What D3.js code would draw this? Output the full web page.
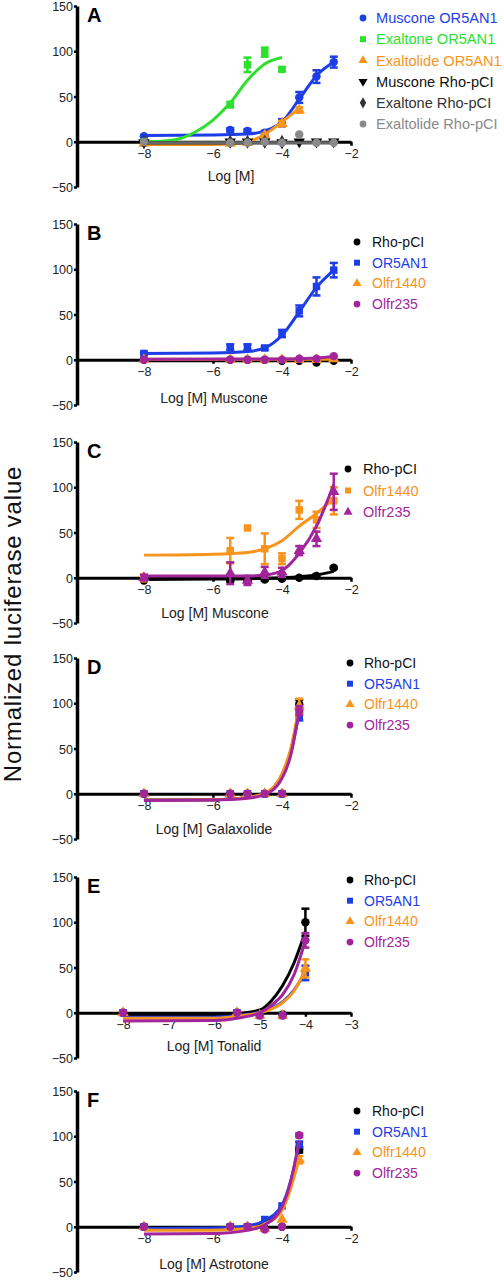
<!DOCTYPE html>
<html><head><meta charset="utf-8">
<script src="https://cdn.jsdelivr.net/npm/d3@7"></script>
<style>body{margin:0;background:#fff}svg{display:block}</style>
</head><body>
<svg id="chart" width="504" height="1280"></svg>
<script>
// ---------------- DATA ----------------
const yTickValues = [-50, 0, 50, 100, 150];
const xTicksStd = [-8, -6, -4, -2];
const xTicksE = [-8, -7, -6, -5, -4, -3];

// Panel A
const A_conc = [-8, -5.5, -5, -4.5, -4, -3.5, -3, -2.5];
const A_exaltoneConc = [-8, -5.5, -5, -4.5, -4];
const A_exaltolideConc = [-8, -5.5, -5, -4.5, -4, -3.5];
const A_musconeOR5AN1 = [6, 13, 12, 10, 21, 49, 72, 88];
const A_musconeOR5AN1Err = [1, 2, 2, 2, 4, 6, 7, 6];
const A_exaltoneOR5AN1 = [0, 41, 85, 99, 80];
const A_exaltoneOR5AN1Err = [0, 3, 8, 5, 2];
const A_exaltolideOR5AN1 = [-2, -2, -1, 7, 20, 35];
const A_exaltolideOR5AN1Err = [1, 1, 1, 2, 3, 3];
const A_musconeRho = [-1, 0, 0, 0, -1, 0, 0, 0];
const A_exaltoneRho = [0, 0, 0, 0, 0];
const A_exaltolideRho = [0, -1, -1, 0, -1, 8, -1, -1];
const A_fitMusconeOR5AN1 = [[-8, 7], [-6, 7.5], [-5, 8.5], [-4.5, 12], [-4, 22], [-3.5, 47], [-3, 73], [-2.5, 88]];
const A_fitExaltoneOR5AN1 = [[-8, 0], [-7.5, 0.5], [-7, 3], [-6.5, 11], [-6, 24], [-5.5, 43], [-5, 68], [-4.5, 86], [-4, 93]];
const A_fitExaltolideOR5AN1 = [[-8, -3], [-6, -3], [-5.5, -2.5], [-5, 0], [-4.5, 8], [-4, 22], [-3.5, 37]];
const A_fitMusconeRho = [[-8, -1], [-2.5, -1]];
const A_fitExaltoneRho = [[-8, -1], [-4, -1]];
const A_fitExaltolideRho = [[-8, -1], [-2.5, -1]];

// Panel B (Muscone)
const B_conc = [-8, -5.5, -5, -4.5, -4, -3.5, -3, -2.5];
const B_Rho = [0, 0, 0, 0, -1, -1, -3, -1];
const B_OR5AN1 = [7, 14, 14, 13, 29, 54, 81, 99];
const B_OR5AN1Err = [1, 3, 3, 2, 4, 6, 10, 8];
const B_Olfr1440 = [0, 0, 0, 0, 0, 0, 0, 1];
const B_Olfr235 = [0, 0, 0, 0, 0, 1, 1, 4];
const B_fitRho = [[-8, -1], [-2.5, -1]];
const B_fitOR5AN1 = [[-8, 7], [-6, 7.5], [-5, 9], [-4.5, 13], [-4, 27], [-3.5, 53], [-3, 80], [-2.5, 99]];
const B_fitOlfr1440 = [[-8, 0.5], [-2.5, 0.5]];
const B_fitOlfr235 = [[-8, 0.5], [-4, 0.8], [-3, 1.8], [-2.5, 3.5]];

// Panel C (Muscone)
const C_conc = [-8, -5.5, -5, -4.5, -4, -3.5, -3, -2.5];
const C_Rho = [-3, -3, -3, -2, -1, 0, 2, 11];
const C_RhoErr = [1, 1, 1, 1, 1, 1, 2, 1];
const C_Olfr1440 = [0, 30, 55, 32, 21, 75, 64, 85];
const C_Olfr1440Err = [4, 14, 0, 17, 6, 10, 9, 15];
const C_Olfr235 = [0, 5, -3, 6, 6, 30, 43, 95];
const C_Olfr235Err = [3, 12, 5, 6, 5, 5, 8, 20];
const C_fitRho = [[-8, -2], [-6, -1.5], [-4, 0], [-3, 3], [-2.5, 7]];
const C_fitOlfr1440 = [[-8, 25], [-6, 26], [-5, 28], [-4.5, 32], [-4, 41], [-3.5, 57], [-3, 71], [-2.5, 88]];
const C_fitOlfr235 = [[-8, 2], [-5, 2], [-4.5, 3], [-4, 8], [-3.5, 27], [-3, 57], [-2.5, 103]];

// Panel D (Galaxolide)
const D_conc = [-8, -5.5, -5, -4.5, -4, -3.5];
const D_Rho = [0, 0, 0, 0, 0, 99];
const D_RhoErr = [0, 0, 0, 0, 0, 5];
const D_OR5AN1 = [0, 0, 0, 0, 0, 85];
const D_OR5AN1Err = [0, 0, 0, 0, 0, 4];
const D_Olfr1440 = [0, 0, 0, 0, 0, 97];
const D_Olfr1440Err = [0, 0, 0, 0, 0, 8];
const D_Olfr235 = [0, 0, 0, 0, 0, 92];
const D_Olfr235Err = [0, 0, 0, 0, 0, 5];
const D_fitRho = [[-8, -7], [-6, -6.5], [-5, -4], [-4.5, 0], [-4, 21], [-3.75, 47], [-3.5, 94]];
const D_fitOR5AN1 = [[-8, -7], [-6, -6.5], [-5, -4], [-4.5, 0], [-4, 20], [-3.75, 45], [-3.5, 90]];
const D_fitOlfr1440 = [[-8, -7], [-6, -6.5], [-5, -4], [-4.5, 0.5], [-4, 22], [-3.75, 49], [-3.5, 97]];
const D_fitOlfr235 = [[-8, -7.5], [-6, -7], [-5, -5], [-4.5, -1], [-4, 17], [-3.75, 42], [-3.5, 92]];

// Panel E (Tonalid)
const E_conc = [-8, -5.5, -5, -4.5, -4];
const E_Rho = [0, 0, -1, -2, 100];
const E_RhoErr = [0, 0, 0, 0, 15];
const E_OR5AN1 = [0, 0, -3, -3, 44];
const E_OR5AN1Err = [0, 0, 0, 0, 8];
const E_Olfr1440 = [0, 0, -3, -3, 49];
const E_Olfr1440Err = [0, 0, 0, 0, 10];
const E_Olfr235 = [0, 0, -3, -3, 80];
const E_Olfr235Err = [0, 0, 0, 0, 8];
const E_fitRho = [[-8, -2], [-6, -2], [-5.5, -1], [-5, 3], [-4.75, 13], [-4.5, 30], [-4.25, 55], [-4, 90]];
const E_fitOR5AN1 = [[-8, -5], [-6, -5], [-5.5, -3], [-5, 0.5], [-4.75, 5], [-4.5, 12], [-4.25, 25], [-4, 45]];
const E_fitOlfr1440 = [[-8, -6], [-6, -6], [-5.5, -4], [-5, 0], [-4.75, 4], [-4.5, 11], [-4.25, 24], [-4, 48]];
const E_fitOlfr235 = [[-8, -9], [-6, -8.5], [-5.5, -6], [-5, 0], [-4.75, 8], [-4.5, 20], [-4.25, 42], [-4, 80]];

// Panel F (Astrotone)
const F_conc = [-8, -5.5, -5, -4.5, -4, -3.5];
const F_Rho = [0, 0, 0, -2, 0, 85];
const F_RhoErr = [0, 0, 0, 0, 0, 3];
const F_OR5AN1 = [0, 0, 0, 8, 23, 91];
const F_OR5AN1Err = [0, 0, 0, 0, 0, 3];
const F_Olfr1440 = [0, 0, 0, -2, 8, 74];
const F_Olfr1440Err = [0, 0, 0, 0, 0, 4];
const F_Olfr235 = [0, 0, 0, -3, 0, 101];
const F_Olfr235Err = [0, 0, 0, 0, 0, 2];
const F_fitRho = [[-8, -3], [-6, -3], [-5, -1], [-4.5, 4], [-4, 20], [-3.75, 46], [-3.5, 85]];
const F_fitOR5AN1 = [[-8, -2], [-6, -1.5], [-5, 1], [-4.5, 7], [-4, 24], [-3.75, 50], [-3.5, 92]];
const F_fitOlfr1440 = [[-8, -4], [-6, -4], [-5, -2], [-4.5, 3], [-4, 18], [-3.75, 42], [-3.5, 76]];
const F_fitOlfr235 = [[-8, -8], [-6, -7.5], [-5, -4], [-4.5, 2], [-4, 22], [-3.75, 50], [-3.5, 95]];

// ---------------- STYLE ----------------
const FONT = 'Arial, "Liberation Sans", Helvetica, sans-serif';
const C_BLUE = '#1d3ee6', C_GREEN = '#2ee02e', C_ORANGE = '#f7941d', C_PURPLE = '#a3259c',
      C_BLACK = '#000', C_DGRAY = '#333', C_GRAY = '#8a8a8a';

function ser(name, color, shape, conc, vals, errs, fit, lineColor) {
  return {name, color, shape, conc, vals, errs: errs || vals.map(() => 0), fit, lineColor: lineColor || color};
}

const panels = [
  {letter: 'A', top: 6, domain: [-9.94, -2], ticks: xTicksStd, xlabel: 'Log [M]', labelX: 231, labelDy: 175,
   legend: {mx: 363, tx: 376, y0: 18, gap: 21.2, fs: 14.6},
   series: [
     ser('Muscone OR5AN1', C_BLUE, 'circle', A_conc, A_musconeOR5AN1, A_musconeOR5AN1Err, A_fitMusconeOR5AN1),
     ser('Exaltone OR5AN1', C_GREEN, 'square', A_exaltoneConc, A_exaltoneOR5AN1, A_exaltoneOR5AN1Err, A_fitExaltoneOR5AN1),
     ser('Exaltolide OR5AN1', C_ORANGE, 'triangle', A_exaltolideConc, A_exaltolideOR5AN1, A_exaltolideOR5AN1Err, A_fitExaltolideOR5AN1),
     ser('Muscone Rho-pCI', C_BLACK, 'triangleDown', A_conc, A_musconeRho, null, A_fitMusconeRho),
     ser('Exaltone Rho-pCI', C_DGRAY, 'diamond', A_exaltoneConc, A_exaltoneRho, null, A_fitExaltoneRho),
     ser('Exaltolide Rho-pCI', C_GRAY, 'circle', A_conc, A_exaltolideRho, null, A_fitExaltolideRho, '#666')
   ]},
  {letter: 'B', top: 224, domain: [-9.94, -2], ticks: xTicksStd, xlabel: 'Log [M] Muscone', labelX: 214, labelDy: 179,
   legend: {mx: 357, tx: 372, y0: 242, gap: 20.7, fs: 14},
   series: [
     ser('Rho-pCI', C_BLACK, 'circle', B_conc, B_Rho, null, B_fitRho),
     ser('OR5AN1', C_BLUE, 'square', B_conc, B_OR5AN1, B_OR5AN1Err, B_fitOR5AN1),
     ser('Olfr1440', C_ORANGE, 'triangle', B_conc, B_Olfr1440, null, B_fitOlfr1440),
     ser('Olfr235', C_PURPLE, 'circle', B_conc, B_Olfr235, null, B_fitOlfr235)
   ]},
  {letter: 'C', top: 442, domain: [-9.94, -2], ticks: xTicksStd, xlabel: 'Log [M] Muscone', labelX: 215, labelDy: 176,
   legend: {mx: 348, tx: 363, y0: 469, gap: 21.5, fs: 14.5},
   series: [
     ser('Rho-pCI', C_BLACK, 'circle', C_conc, C_Rho, C_RhoErr, C_fitRho),
     ser('Olfr1440', C_ORANGE, 'square', C_conc, C_Olfr1440, C_Olfr1440Err, C_fitOlfr1440),
     ser('Olfr235', C_PURPLE, 'triangle', C_conc, C_Olfr235, C_Olfr235Err, C_fitOlfr235)
   ]},
  {letter: 'D', top: 658, domain: [-9.94, -2], ticks: xTicksStd, xlabel: 'Log [M] Galaxolide', labelX: 214, labelDy: 176,
   legend: {mx: 350, tx: 364, y0: 663, gap: 20.7, fs: 14},
   series: [
     ser('Rho-pCI', C_BLACK, 'circle', D_conc, D_Rho, D_RhoErr, D_fitRho),
     ser('OR5AN1', C_BLUE, 'square', D_conc, D_OR5AN1, D_OR5AN1Err, D_fitOR5AN1),
     ser('Olfr1440', C_ORANGE, 'triangle', D_conc, D_Olfr1440, D_Olfr1440Err, D_fitOlfr1440),
     ser('Olfr235', C_PURPLE, 'circle', D_conc, D_Olfr235, D_Olfr235Err, D_fitOlfr235)
   ]},
  {letter: 'E', top: 877, domain: [-9.01, -3], ticks: xTicksE, xlabel: 'Log [M] Tonalid', labelX: 214, labelDy: 174,
   legend: {mx: 350, tx: 364, y0: 880, gap: 20.7, fs: 14},
   series: [
     ser('Rho-pCI', C_BLACK, 'circle', E_conc, E_Rho, E_RhoErr, E_fitRho),
     ser('OR5AN1', C_BLUE, 'square', E_conc, E_OR5AN1, E_OR5AN1Err, E_fitOR5AN1),
     ser('Olfr1440', C_ORANGE, 'triangle', E_conc, E_Olfr1440, E_Olfr1440Err, E_fitOlfr1440),
     ser('Olfr235', C_PURPLE, 'circle', E_conc, E_Olfr235, E_Olfr235Err, E_fitOlfr235)
   ]},
  {letter: 'F', top: 1091, domain: [-9.94, -2], ticks: xTicksStd, xlabel: 'Log [M] Astrotone', labelX: 214, labelDy: 178,
   legend: {mx: 357, tx: 372, y0: 1111, gap: 20.7, fs: 14},
   series: [
     ser('Rho-pCI', C_BLACK, 'circle', F_conc, F_Rho, F_RhoErr, F_fitRho),
     ser('OR5AN1', C_BLUE, 'square', F_conc, F_OR5AN1, F_OR5AN1Err, F_fitOR5AN1),
     ser('Olfr1440', C_ORANGE, 'triangle', F_conc, F_Olfr1440, F_Olfr1440Err, F_fitOlfr1440),
     ser('Olfr235', C_PURPLE, 'circle', F_conc, F_Olfr235, F_Olfr235Err, F_fitOlfr235)
   ]}
];

// ---------------- DRAW ----------------
const svg = d3.select('#chart');
const AX_X = 77, AX_R = 351, PH = 181;

function symbolPath(shape, size) {
  const types = {circle: d3.symbolCircle, square: d3.symbolSquare, triangle: d3.symbolTriangle,
                 triangleDown: d3.symbolTriangle, diamond: d3.symbolDiamond};
  return d3.symbol().type(types[shape]).size(size)();
}
function drawMarker(g, shape, cx, cy, size, color) {
  g.append('path').attr('d', symbolPath(shape, size))
    .attr('transform', `translate(${cx},${cy})` + (shape === 'triangleDown' ? ' rotate(180)' : ''))
    .attr('fill', color);
}

panels.forEach(p => {
  const g = svg.append('g');
  const x = d3.scaleLinear().domain(p.domain).range([AX_X, AX_R]);
  const y = d3.scaleLinear().domain([-50, 150]).range([p.top + PH, p.top]);

  // y axis
  const ya = g.append('g').attr('transform', `translate(${AX_X},0)`)
    .call(d3.axisLeft(y).tickValues(yTickValues).tickSize(3).tickSizeOuter(0).tickPadding(1).tickFormat(d3.format('d')));
  ya.select('.domain').attr('stroke', '#000').attr('stroke-width', 3.5);
  ya.selectAll('.tick line').attr('stroke', '#000').attr('stroke-width', 2.5);
  ya.selectAll('.tick text').attr('font-family', FONT).attr('font-size', 12.5).attr('fill', '#222').attr('dy', '0.36em');

  // x axis at y = 0
  const xa = g.append('g').attr('transform', `translate(0,${y(0)})`)
    .call(d3.axisBottom(x).tickValues(p.ticks).tickSize(4).tickSizeOuter(0).tickPadding(3).tickFormat(d3.format('d')));
  xa.select('.domain').attr('stroke', '#000').attr('stroke-width', 3);
  xa.selectAll('.tick line').attr('stroke', '#000').attr('stroke-width', 2.5);
  xa.selectAll('.tick text').attr('font-family', FONT).attr('font-size', 12.5).attr('fill', '#222');

  // panel letter
  g.append('text').attr('x', 87).attr('y', p.top + 16).text(p.letter)
    .attr('font-family', FONT).attr('font-weight', 'bold').attr('font-size', 20);
  // x label
  g.append('text').attr('x', p.labelX).attr('y', p.top + p.labelDy).attr('text-anchor', 'middle')
    .text(p.xlabel).attr('font-family', FONT).attr('font-size', 14).attr('fill', '#222');

  const line = d3.line().x(d => x(d[0])).y(d => y(d[1])).curve(d3.curveMonotoneX);

  p.series.forEach(s => {
    const sg = g.append('g');
    sg.append('path').attr('d', line(s.fit)).attr('fill', 'none')
      .attr('stroke', s.lineColor).attr('stroke-width', 3);
    s.conc.forEach((c, i) => {
      const v = s.vals[i], e = s.errs[i];
      if (e > 0) {
        const cx = x(c), y1 = y(v - e), y2 = y(v + e);
        sg.append('line').attr('x1', cx).attr('x2', cx).attr('y1', y1).attr('y2', y2)
          .attr('stroke', s.color).attr('stroke-width', 2.5);
        [y1, y2].forEach(yy => sg.append('line').attr('x1', cx - 4).attr('x2', cx + 4)
          .attr('y1', yy).attr('y2', yy).attr('stroke', s.color).attr('stroke-width', 2.5));
      }
      drawMarker(sg, s.shape, x(c), y(v), 56, s.color);
    });
  });

  // legend
  const L = p.legend;
  p.series.forEach((s, i) => {
    const cy = L.y0 + i * L.gap;
    drawMarker(g, s.shape, L.mx, cy, 36, s.color);
    g.append('text').attr('x', L.tx).attr('y', cy).attr('dy', '0.36em').text(s.name)
      .attr('font-family', FONT).attr('font-size', L.fs).attr('fill', s.color === C_BLACK ? '#111' : s.color);
  });
});

// y axis title
svg.append('text').attr('transform', 'translate(21,624) rotate(-90)').attr('text-anchor', 'middle')
  .text('Normalized luciferase value').attr('font-family', FONT).attr('font-size', 24)
  .attr('letter-spacing', 0.8).attr('fill', '#111');
</script>
</body></html>
